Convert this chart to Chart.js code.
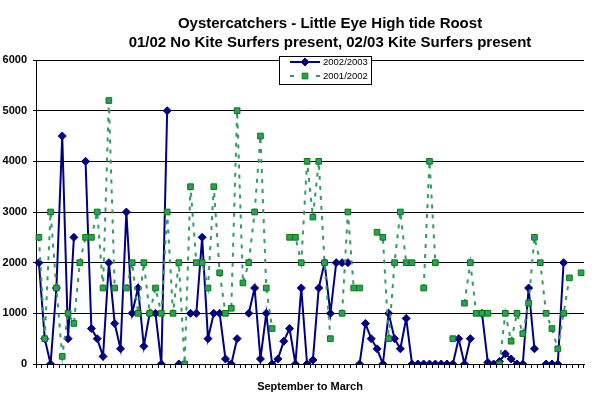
<!DOCTYPE html>
<html lang="en">
<head>
<meta charset="UTF-8">
<title>Oystercatchers - Little Eye High tide Roost</title>
<script src="https://cdn.jsdelivr.net/npm/chart.js@4.4.0/dist/chart.umd.min.js"></script>
<style>
    body {
        margin: 0;
        background: #fff;
    }
    #wrap {
        width: 608px;
        height: 396px;
    }
</style>
</head>
<body>
<div id="wrap"><canvas id="roostChart" width="608" height="396"></canvas></div>

<script>
    // Chart text
    const titleLines = [
        'Oystercatchers - Little Eye High tide Roost',
        '01/02 No Kite Surfers present, 02/03 Kite Surfers present'
    ];
    const xAxisTitle = 'September to March';
    const seriesNames = ['2002/2003', '2001/2002'];
    const yTicks = [0, 1000, 2000, 3000, 4000, 5000, 6000];

    // Counts per high tide visit, Sept to March (null = no count)
    const counts0203 = [
        2000, 500, 0, 1500, 4500, 500, 2500, null, 4000, 700,
        500, 150, 2000, 800, 300, 3000, 1000, 1500, 350, 1000,
        1000, 0, 5000, null, 0, null, 1000, 1000, 2500, 500,
        1000, 1000, 100, 0, 500, null, 1000, 1500, 100, 1000,
        0, 100, 450, 700, 0, 1500, 0, 80, 1500, 2000,
        1000, 2000, 2000, 2000, null, 0, 800, 500, 300, 0,
        1000, 500, 300, 900, 0, 0, 0, 0, 0, 0,
        0, 0, 500, 0, 500, null, 1000, 30, 0, 50,
        200, 100, 0, 0, 1500, 300, null, 0, 0, 0,
        2000, null, null, null
    ];
    const counts0102 = [
        2500, 500, 3000, 1500, 150, 1000, 800, 2000, 2500, 2500,
        3000, 1500, 5200, 1500, null, 1500, 2000, 1000, 2000, 1000,
        1500, 1000, 3000, 1000, 2000, 0, 3500, 2000, 2000, 1500,
        3500, 1800, 1000, 1100, 5000, 1600, 2000, 3000, 4500, 1500,
        700, null, null, 2500, 2500, 2000, 4000, 2900, 4000, 2000,
        500, null, 1000, 3000, 1500, 1500, null, null, 2600, 2500,
        500, 2000, 3000, 2000, 2000, null, 1500, 4000, 2000, null,
        null, 500, null, 1200, 2000, 1000, 1000, 1000, null, 0,
        1000, 450, 1000, 600, 1200, 2500, 2000, 1000, 700, 300,
        1000, 1700, null, 1800
    ];
    const categories = counts0203.map((v, i) => String(i + 1));

    const navy = '#000080';
    const green = '#339966';
    const darkGreen = '#008000';
    const fontFamily = '"Liberation Sans", Arial, sans-serif';

    // Two line title, centred over the plot like the Excel original
    const titlePlugin = {
        id: 'titleLines',
        afterDraw(chart) {
            const ctx = chart.ctx;
            ctx.save();
            ctx.fillStyle = '#000';
            ctx.font = 'bold 15px ' + fontFamily;
            ctx.textAlign = 'center';
            ctx.textBaseline = 'alphabetic';
            ctx.fillText(titleLines[0], 330, 28);
            ctx.fillText(titleLines[1], 330, 47);
            ctx.restore();
        }
    };

    // Boxed legend sitting on top of the plot
    const legendPlugin = {
        id: 'boxLegend',
        afterDraw(chart) {
            const ctx = chart.ctx;
            const drawPoint = Chart.helpers.drawPoint;
            ctx.save();
            ctx.fillStyle = '#fff';
            ctx.fillRect(279.5, 56.5, 92, 28);
            ctx.strokeStyle = '#000';
            ctx.lineWidth = 1;
            ctx.strokeRect(279.5, 56.5, 92, 28);

            // 2002/2003 row
            ctx.strokeStyle = navy;
            ctx.lineWidth = 2;
            ctx.beginPath();
            ctx.moveTo(290, 62);
            ctx.lineTo(320, 62);
            ctx.stroke();
            ctx.fillStyle = navy;
            ctx.lineWidth = 1;
            drawPoint(ctx, { pointStyle: 'rectRot', radius: 4, rotation: 0, borderWidth: 1 }, 305, 62);

            // 2001/2002 row
            ctx.strokeStyle = green;
            ctx.lineWidth = 2;
            ctx.beginPath();
            ctx.moveTo(290, 76);
            ctx.lineTo(294, 76);
            ctx.moveTo(316, 76);
            ctx.lineTo(320, 76);
            ctx.stroke();
            ctx.fillStyle = green;
            ctx.strokeStyle = darkGreen;
            ctx.lineWidth = 1;
            drawPoint(ctx, { pointStyle: 'rect', radius: 4, rotation: 0, borderWidth: 1 }, 305, 76);

            ctx.fillStyle = '#000';
            ctx.font = '9.5px ' + fontFamily;
            ctx.textAlign = 'left';
            ctx.textBaseline = 'middle';
            ctx.fillText(seriesNames[0], 323, 62);
            ctx.fillText(seriesNames[1], 323, 76);
            ctx.restore();
        }
    };

    const ctx = document.getElementById('roostChart').getContext('2d');
    const roostChart = new Chart(ctx, {
        type: 'line',
        data: {
            labels: categories,
            datasets: [
                {
                    label: seriesNames[0],
                    data: counts0203,
                    order: 1,
                    borderColor: navy,
                    borderWidth: 2,
                    pointStyle: 'rectRot',
                    pointRadius: 4,
                    pointBackgroundColor: navy,
                    pointBorderColor: navy,
                    pointBorderWidth: 1,
                    tension: 0,
                    spanGaps: false
                },
                {
                    label: seriesNames[1],
                    data: counts0102,
                    order: 0,
                    borderColor: green,
                    borderWidth: 2,
                    borderDash: [4, 6],
                    pointStyle: 'rect',
                    pointRadius: 4,
                    pointBackgroundColor: green,
                    pointBorderColor: darkGreen,
                    pointBorderWidth: 1,
                    tension: 0,
                    spanGaps: false
                }
            ]
        },
        options: {
            responsive: false,
            animation: false,
            layout: {
                padding: { top: 60, right: 24, bottom: 0, left: 0 }
            },
            plugins: {
                legend: { display: false },
                title: { display: false },
                tooltip: { enabled: false }
            },
            scales: {
                x: {
                    offset: true,
                    afterFit(scale) { scale.height = 32; },
                    grid: {
                        offset: true,
                        drawOnChartArea: false,
                        drawTicks: true,
                        tickLength: 4,
                        tickColor: '#000',
                        tickWidth: 1,
                        color: '#000'
                    },
                    border: { display: true, color: '#000', width: 1 },
                    ticks: { display: false },
                    title: {
                        display: true,
                        text: xAxisTitle,
                        color: '#000',
                        font: { family: fontFamily, size: 11, weight: 'bold' },
                        padding: { top: 0, bottom: 2 }
                    }
                },
                y: {
                    min: yTicks[0],
                    max: yTicks[yTicks.length - 1],
                    afterFit(scale) { scale.width = 36; },
                    afterBuildTicks(scale) {
                        scale.ticks = yTicks.map(v => ({ value: v }));
                    },
                    grid: {
                        color: '#000',
                        lineWidth: 1,
                        drawTicks: true,
                        tickLength: 3
                    },
                    border: { display: true, color: '#000', width: 1 },
                    ticks: {
                        color: '#000',
                        padding: 6,
                        font: { family: fontFamily, size: 11, weight: 'bold' },
                        callback: v => String(v)
                    }
                }
            }
        },
        plugins: [titlePlugin, legendPlugin]
    });
</script>
</body>
</html>
